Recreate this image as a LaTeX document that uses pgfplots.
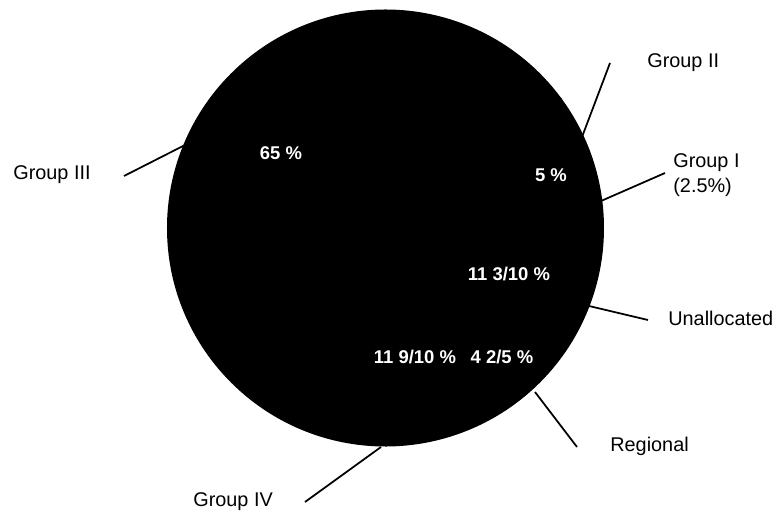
\documentclass[border=0pt]{standalone}
\usepackage{pgfplots}
\pgfplotsset{compat=1.18}
\usepackage{pgfplotstable}
\usepackage{fontspec}
\setmainfont{Liberation Sans}

% shares of the allocation, in per cent, clockwise from the top right
\pgfplotstableread{
name        value
GroupII     5
GroupI      2.5
Unallocated 11.3
Regional    4.4
GroupIV     11.9
GroupIII    65
}\slices

\begin{document}
\begin{tikzpicture}
\begin{axis}[
  name=ax,
  x=0.02cm, y=0.02cm, y dir=reverse,
  xmin=0, xmax=775, ymin=0, ymax=513,
  hide axis, clip=false, scale only axis,
]
% pie wedges, all filled black
\pgfplotstablegetrowsof{\slices}
\pgfmathtruncatemacro\lastrow{\pgfplotsretval-1}
\def\angstart{36.5}
\pgfplotsforeachungrouped \i in {0,...,\lastrow}{%
  \pgfplotstablegetelem{\i}{value}\of\slices
  \pgfmathsetmacro\angend{\angstart-3.6*\pgfplotsretval}%
  \edef\doslice{\noexpand\fill[black, draw=black, line width=1.2pt, line join=round]
    (axis cs:385.5,228) -- ++(\angstart:4.35cm)
    arc[start angle=\angstart, end angle=\angend, radius=4.35cm] -- cycle;}%
  \doslice
  \global\let\angstart\angend
}

% leader lines
\draw[line width=1pt] (axis cs:582,137) -- (axis cs:610,63);
\draw[line width=1pt] (axis cs:601,201) -- (axis cs:665,173);
\draw[line width=1pt] (axis cs:589,306) -- (axis cs:648,320);
\draw[line width=1pt] (axis cs:535,392) -- (axis cs:577,447);
\draw[line width=1pt] (axis cs:381,447) -- (axis cs:305,502);
\draw[line width=1pt] (axis cs:185,145) -- (axis cs:124,176);

% outer labels
\begin{scope}[every node/.style={font=\fontsize{11.3}{14.2}\selectfont, inner sep=0pt}]
\node[anchor=west] at (axis cs:647,63) {Group II};
\node[anchor=west, align=left] at (axis cs:673,175) {Group I\\(2.5\%)};
\node[anchor=west] at (axis cs:668,318) {Unallocated};
\node[anchor=west] at (axis cs:610,446) {Regional};
\node[anchor=west] at (axis cs:193,502) {Group IV};
\node[anchor=west] at (axis cs:13,175) {Group III};
\end{scope}

% values inside the pie
\begin{scope}[every node/.style={font=\fontsize{10.5}{12}\selectfont\bfseries, text=white, inner sep=0pt}]
\node at (axis cs:281,153) {65 \%};
\node at (axis cs:551,175) {5 \%};
\node at (axis cs:509,274) {11 3/10 \%};
\node at (axis cs:415,357) {11 9/10 \%};
\node at (axis cs:502,357) {4 2/5 \%};
\end{scope}
\end{axis}
\pgfresetboundingbox
\path[use as bounding box] (ax.south west) rectangle (ax.north east);
\end{tikzpicture}
\end{document}
